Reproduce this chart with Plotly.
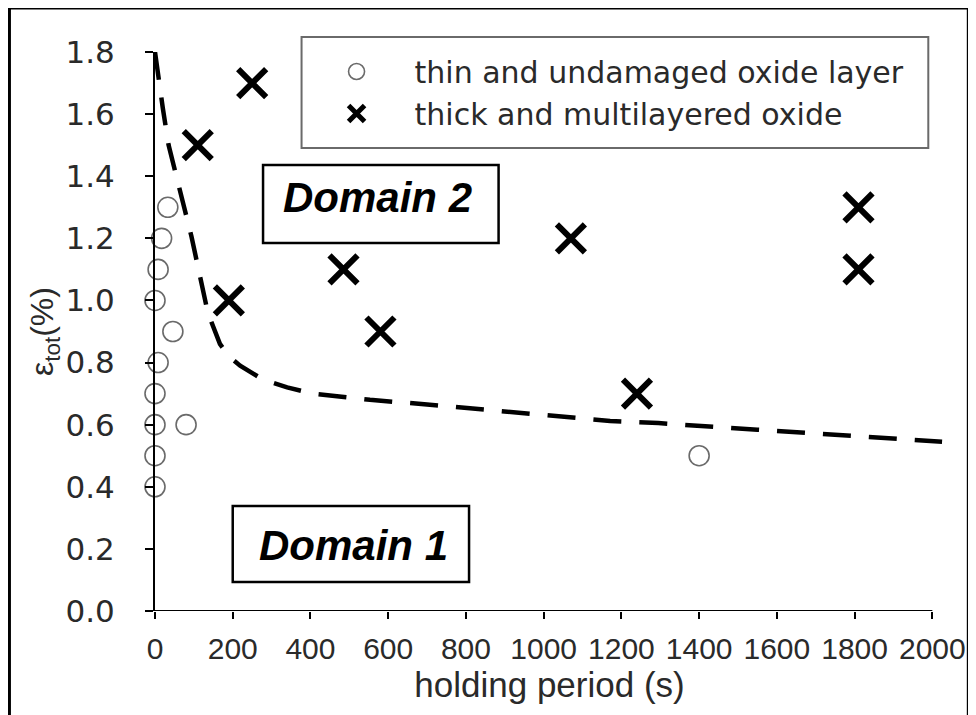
import plotly.graph_objects as go

# ---- data ----
thin_x = [0, 0, 0, 0, 8, 0, 8, 17, 33, 46, 80, 1400]
thin_y = [0.4, 0.5, 0.6, 0.7, 0.8, 1.0, 1.1, 1.2, 1.3, 0.9, 0.6, 0.5]

thick_x = [250, 110, 190, 485, 580, 1070, 1240, 1810, 1810]
thick_y = [1.7, 1.5, 1.0, 1.1, 0.9, 1.2, 0.7, 1.3, 1.1]

bound_x = [0, 10, 20, 35, 56, 75, 94, 115, 136, 167, 190, 219, 250, 278, 340, 407, 480, 553,
           700, 850, 1000, 1171, 1295, 1421, 1550, 1673, 1802, 1925, 2025]
bound_y = [1.80, 1.70, 1.62, 1.50, 1.40, 1.30, 1.205, 1.08, 0.96, 0.86, 0.82, 0.79, 0.765, 0.745,
           0.72, 0.70, 0.69, 0.68, 0.665, 0.648, 0.632, 0.612, 0.605, 0.593, 0.584, 0.574, 0.563,
           0.554, 0.545]

x_ticks = [0, 200, 400, 600, 800, 1000, 1200, 1400, 1600, 1800, 2000]
y_ticks = [0.0, 0.2, 0.4, 0.6, 0.8, 1.0, 1.2, 1.4, 1.6, 1.8]
y_ticklabels = [f"{v:.1f}" for v in y_ticks]

domain2_box = dict(x0=278, x1=884, y0=1.185, y1=1.436)
domain1_box = dict(x0=200, x1=808, y0=0.093, y1=0.338)

FONT = "Liberation Sans, Arial, sans-serif"
WIDE = "DejaVu Sans, Verdana, sans-serif"

# ---- geometry: page offset of the plot div (body margin) ----
OFF = 8
W, H = 976 - OFF, 715 - OFF
# plot area in page pixels
P_L, P_R, P_T, P_B = 155, 943.7, 52, 611
ML = P_L - OFF
MR = W - (P_R - OFF)
MT = P_T - OFF
MB = H - (P_B - OFF)
PW = P_R - P_L
PH = P_B - P_T


def px_to_paper_x(px):
    return (px - P_L) / PW


def px_to_paper_y(py):
    return (P_B - py) / PH


fig = go.Figure()

fig.add_trace(go.Scatter(
    x=bound_x, y=bound_y, mode="lines", showlegend=False,
    line=dict(color="black", width=4.5, dash="28px,18px"),
    hoverinfo="skip",
))

fig.add_trace(go.Scatter(
    x=thin_x, y=thin_y, mode="markers", name="thin and undamaged oxide layer",
    marker=dict(symbol="circle-open", size=20, color="#6a6a6a", line=dict(width=1.6, color="#6a6a6a")),
    cliponaxis=False,
))

fig.add_trace(go.Scatter(
    x=thick_x, y=thick_y, mode="markers", name="thick and multilayered oxide",
    marker=dict(symbol="x-thin-open", size=28, color="black", line=dict(width=6, color="black")),
    cliponaxis=False,
))

shapes = [
    dict(type="line", xref="x", yref="y", x0=0, x1=2000, y0=0, y1=0,
         line=dict(color="black", width=2)),
    dict(type="rect", xref="x", yref="y", **domain2_box,
         line=dict(color="black", width=2.5), fillcolor="white", layer="below"),
    dict(type="rect", xref="x", yref="y", **domain1_box,
         line=dict(color="black", width=2.5), fillcolor="white", layer="below"),
    dict(type="rect", xref="paper", yref="paper",
         x0=px_to_paper_x(301.5), x1=px_to_paper_x(928),
         y0=px_to_paper_y(148), y1=px_to_paper_y(37),
         line=dict(color="#6a6a6a", width=2), fillcolor="rgba(0,0,0,0)"),
    dict(type="rect", xref="paper", yref="paper",
         x0=px_to_paper_x(9.5), x1=px_to_paper_x(968),
         y0=px_to_paper_y(740), y1=px_to_paper_y(8),
         line=dict(color="black", width=3), fillcolor="rgba(0,0,0,0)"),
]

annotations = [
    dict(x=(domain2_box["x0"] + domain2_box["x1"]) / 2 - 8, y=1.33, xref="x", yref="y",
         text="<b><i>Domain 2</i></b>", showarrow=False,
         font=dict(family=FONT, size=42, color="black")),
    dict(x=(domain1_box["x0"] + domain1_box["x1"]) / 2 + 6, y=0.212, xref="x", yref="y",
         text="<b><i>Domain 1</i></b>", showarrow=False,
         font=dict(family=FONT, size=42, color="black")),
]

fig.update_layout(
    width=W, height=H,
    margin=dict(l=ML, r=MR, t=MT, b=MB, autoexpand=False),
    paper_bgcolor="white", plot_bgcolor="white",
    font=dict(family=FONT, color="#2a2a2a"),
    shapes=shapes, annotations=annotations,
    showlegend=True,
    legend=dict(
        x=px_to_paper_x(298.5), y=px_to_paper_y(45.5), xanchor="left", yanchor="top",
        bgcolor="rgba(0,0,0,0)", borderwidth=0,
        font=dict(family=WIDE, size=30, color="#2a2a2a"),
        itemsizing="trace", tracegroupgap=0, itemwidth=106,
    ),
    xaxis=dict(
        range=[0, 2030], showgrid=False, zeroline=False, showline=False,
        tickmode="array", tickvals=x_ticks, ticktext=[str(v) for v in x_ticks],
        ticks="outside", ticklen=7, tickwidth=1.5, tickcolor="black",
        tickfont=dict(family=FONT, size=30, color="#2a2a2a"),
        ticklabelstandoff=4,
        title=dict(text="holding period (s)", font=dict(family=FONT, size=35, color="#2a2a2a"),
                   standoff=4),
        automargin=False,
    ),
    yaxis=dict(
        range=[0, 1.8], showgrid=False, zeroline=False, showline=True,
        linecolor="black", linewidth=2,
        tickmode="array", tickvals=y_ticks, ticktext=y_ticklabels,
        ticks="outside", ticklen=8, tickwidth=1.5, tickcolor="black",
        tickfont=dict(family=WIDE, size=31, color="#2a2a2a"),
        ticklabelstandoff=24,
        title=dict(text="ε<sub>tot</sub>(%)", font=dict(family=FONT, size=32, color="#2a2a2a"),
                   standoff=2),
        automargin=False,
    ),
)

fig.write_html("out.html")
